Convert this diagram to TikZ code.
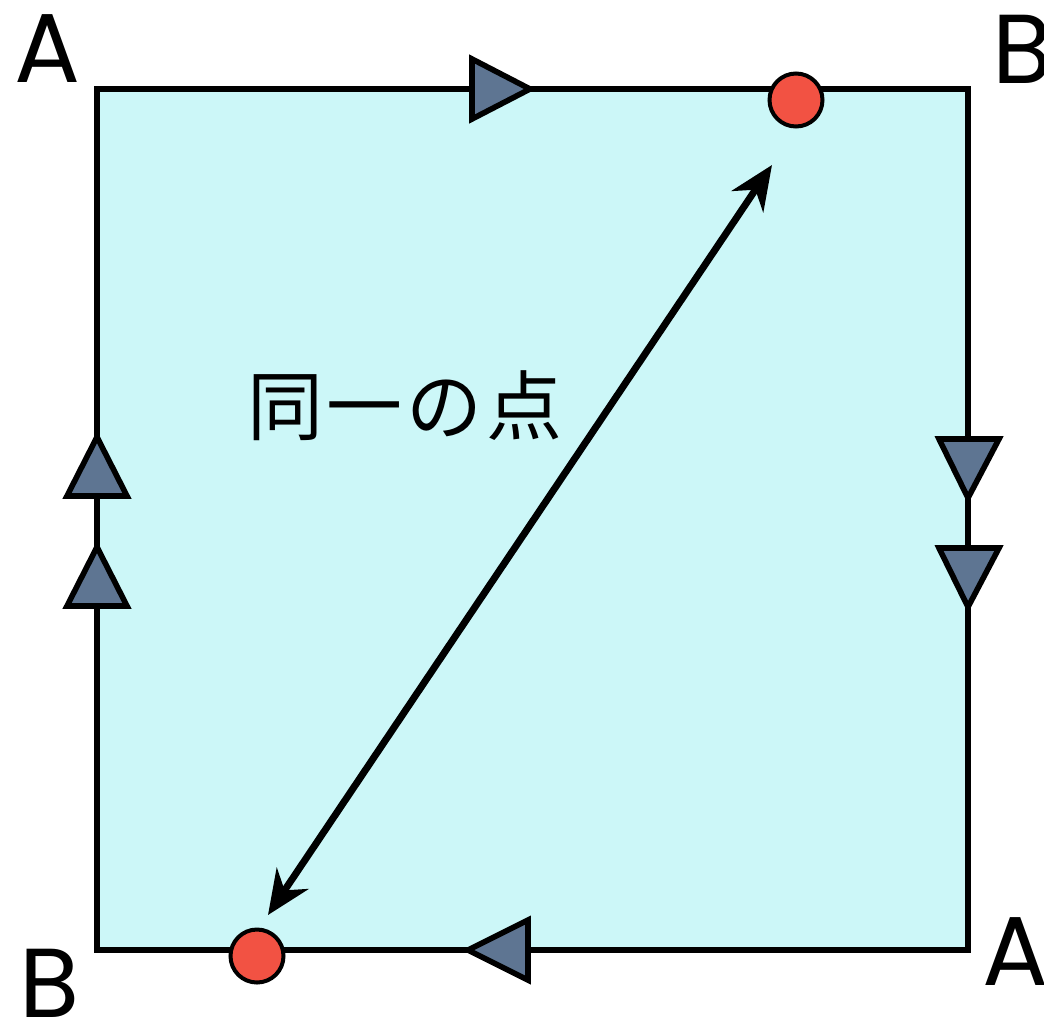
\documentclass[tikz,border=0pt]{standalone}
\usepackage{fontspec}
\setmainfont{Poppins}
\newfontfamily\jpfont{Noto Sans CJK JP}
\usetikzlibrary{arrows.meta}
\definecolor{sheetcyan}{HTML}{CCF7F8}
\definecolor{markslate}{HTML}{5E7592}
\definecolor{dotred}{HTML}{F25243}
\tikzset{corner/.style={font=\fontsize{49}{49}\selectfont,inner sep=0pt},sheet/.style={fill=sheetcyan,line width=2.6pt},edgemark/.style={draw=black,fill=markslate,line width=2.8pt,line join=miter},samept/.style={circle,draw,fill=dotred,line width=2pt,minimum size=26.5pt,inner sep=0pt},pointer/.style={{Stealth[length=22pt,width=19pt]}-{Stealth[length=22pt,width=19pt]},line width=3.5pt}}

\begin{document}
\begin{tikzpicture}[x=0.5pt,y=-0.5pt]
\useasboundingbox (0,0) rectangle (1044,1019);
\draw[sheet] (97,89) rectangle (968,950);
% glued edges
\draw[edgemark] (472,59)--(530,89)--(472,119)--cycle;
\draw[edgemark] (528,920)--(468,950)--(528,980)--cycle;
\foreach \t in {437,547}{\draw[edgemark] (67,\t+59)--(97,\t)--(127,\t+59)--cycle;}
\foreach \t in {439,548}{\draw[edgemark] (939,\t)--(968,\t+59)--(999,\t)--cycle;}
\node[samept] (tdot) at (796,100) {};
\node[samept] (bdot) at (257,956) {};
\coordinate (lowtip) at (268,915);
\coordinate (hightip) at (772,165);
\draw[pointer] (lowtip)--(hightip);
\node[font=\jpfont\fontsize{38}{38}\selectfont,inner sep=0pt] (same) at (405,406) {同\hspace{2pt}一\hspace{2pt}の\hspace{2pt}点};
\node[corner] (atl) at (48,49) {A};
\node[corner] (btr) at (1023,49) {B};
\node[corner] (bbl) at (50,983) {B};
\node[corner] (abr) at (1016,952) {A};
\end{tikzpicture}
\end{document}
